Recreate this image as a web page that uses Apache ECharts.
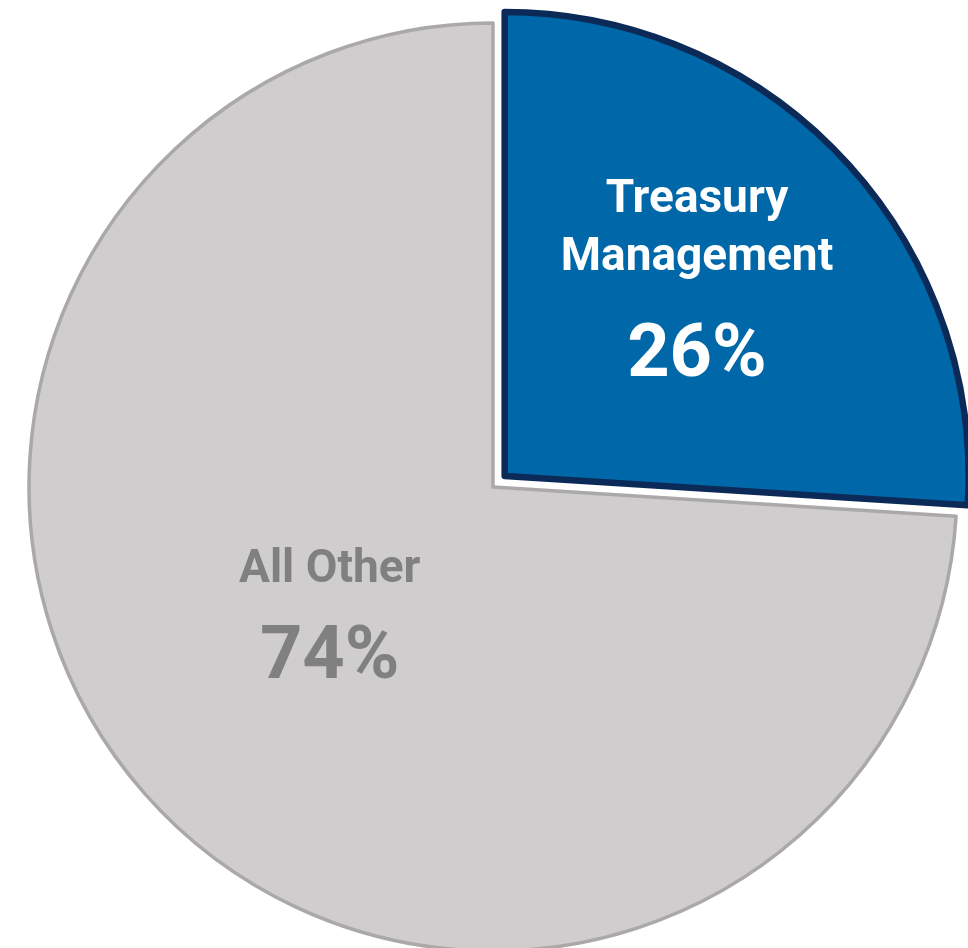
<!DOCTYPE html>
<html>
<head>
<meta charset="utf-8">
<script src="https://cdn.jsdelivr.net/npm/echarts@6/dist/echarts.min.js"></script>
<style>
  html, body { margin: 0; padding: 0; background: #fff; }
  #main { width: 968px; height: 948px; }
</style>
</head>
<body>
<div id="main"></div>
<script>
// 数据
const names = ['Treasury\nManagement', 'All Other']
const values = [26, 74]
const fills = ['#0067a8', '#cfcdce']
const borders = ['#0c2a57', '#aaa8a8']
const textColors = ['#ffffff', '#808080']

const chart = echarts.init(document.getElementById('main'))

const seriesData = names.map((n, i) => ({
  name: n,
  value: values[i],
  selected: i === 0,
  itemStyle: {
    color: fills[i],
    borderColor: borders[i],
    borderWidth: i === 0 ? 6.5 : 3.5
  },
  label: {
    color: textColors[i],
    rich: {
      n: { fontSize: 46, fontWeight: 'bold', lineHeight: 58, color: textColors[i], fontFamily: 'Roboto' },
      gap: { fontSize: 20, lineHeight: i === 0 ? 30 : 20 },
      p: { fontSize: 74, fontWeight: 'bold', lineHeight: 80, color: textColors[i], fontFamily: 'Roboto' }
    }
  }
}))

chart.setOption({
  animation: false,
  series: [{
    type: 'pie',
    center: [493, 487],
    radius: [0, 464],
    startAngle: 90,
    clockwise: true,
    selectedMode: 'single',
    selectedOffset: 16,
    data: seriesData,
    label: {
      show: true,
      position: 'inside',
      formatter: p => `{n|${p.name}}\n{gap|}\n{p|${p.value}%}`
    },
    labelLine: { show: false },
    emphasis: { disabled: true },
    select: { itemStyle: { color: fills[0], borderColor: borders[0], borderWidth: 6.5 } },
    labelLayout: function (params) {
      // 标签微调
      if (params.dataIndex === 0) return { dx: 21, dy: -31 }
      return { dx: 8, dy: -27 }
    }
  }]
})
</script>
</body>
</html>
